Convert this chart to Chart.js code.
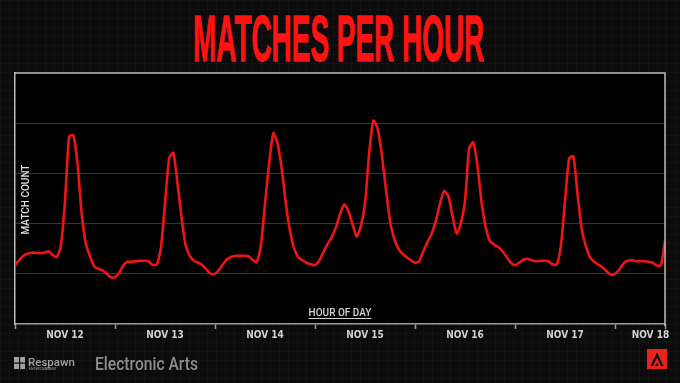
<!DOCTYPE html>
<html>
<head>
<meta charset="utf-8">
<script src="https://cdn.jsdelivr.net/npm/chart.js@4.4.1/dist/chart.umd.min.js"></script>
<style>
  html, body { margin: 0; padding: 0; width: 680px; height: 383px; overflow: hidden; background: #0b0b0b; }
  body {
    background-image:
      linear-gradient(rgba(255,255,255,0.028) 1px, transparent 1px),
      linear-gradient(90deg, rgba(255,255,255,0.028) 1px, transparent 1px);
    background-size: 9px 9px;
  }
  canvas { display: block; }
</style>
</head>
<body>
<canvas id="chart" width="680" height="383"></canvas>
<script>
// Day labels along the bottom axis (one per 24 hourly samples)
const dayLabels = ['NOV 12', 'NOV 13', 'NOV 14', 'NOV 15', 'NOV 16', 'NOV 17', 'NOV 18'];

// Matches per hour, hourly samples for each day (relative units, grid step = 1)
const nov12 = [1.17, 1.27, 1.36, 1.40, 1.42, 1.42, 1.41, 1.42, 1.45, 1.38, 1.33, 1.55,
               2.45, 3.74, 3.76, 3.20, 2.20, 1.60, 1.35, 1.15, 1.10, 1.07, 1.00, 0.93];
const nov13 = [0.93, 1.02, 1.17, 1.24, 1.24, 1.25, 1.26, 1.26, 1.25, 1.18, 1.18, 1.50,
               2.40, 3.30, 3.41, 2.80, 2.10, 1.55, 1.35, 1.26, 1.22, 1.17, 1.08, 1.00];
const nov14 = [1.00, 1.08, 1.20, 1.30, 1.34, 1.36, 1.36, 1.36, 1.35, 1.28, 1.23, 1.55,
               2.40, 3.20, 3.80, 3.60, 3.10, 2.40, 1.85, 1.50, 1.33, 1.27, 1.22, 1.19];
const nov15 = [1.17, 1.26, 1.43, 1.59, 1.73, 1.92, 2.19, 2.38, 2.25, 1.99, 1.74, 1.95,
               2.40, 3.40, 4.05, 3.90, 3.40, 2.70, 2.05, 1.70, 1.50, 1.40, 1.33, 1.27];
const nov16 = [1.22, 1.25, 1.45, 1.63, 1.80, 2.05, 2.40, 2.65, 2.55, 2.15, 1.80, 2.00,
               2.45, 3.50, 3.62, 3.15, 2.40, 1.92, 1.65, 1.58, 1.53, 1.45, 1.33, 1.22];
const nov17 = [1.17, 1.22, 1.28, 1.30, 1.27, 1.25, 1.26, 1.26, 1.25, 1.19, 1.18, 1.55,
               2.45, 3.30, 3.34, 2.60, 1.90, 1.55, 1.33, 1.24, 1.18, 1.13, 1.05, 0.98];
const nov18 = [1.00, 1.08, 1.20, 1.26, 1.27, 1.25, 1.25, 1.25, 1.24, 1.22, 1.16, 1.17, 1.64];

const matchCount = [...nov12, ...nov13, ...nov14, ...nov15, ...nov16, ...nov17, ...nov18];
const hours = matchCount.map((_, i) => i);

const HOURS_PER_DAY = 24;
const labelAt = new Map();

const FONT_COND = "'Liberation Sans Narrow','DejaVu Sans Condensed',Roboto,'Liberation Sans',sans-serif";

// Black plot panel, frame, in-plot axis captions, heading and footer marks
const decorations = {
  id: 'decorations',
  beforeDraw(chart) {
    const { ctx, chartArea: a } = chart;
    ctx.save();
    ctx.fillStyle = '#000';
    ctx.fillRect(a.left, a.top, a.right - a.left, a.bottom - a.top);
    ctx.restore();
  },
  afterDraw(chart) {
    const { ctx, chartArea: a } = chart;
    ctx.save();

    // frame (top + right edges)
    ctx.strokeStyle = '#bdbdbd';
    ctx.lineWidth = 1.5;
    ctx.beginPath();
    ctx.moveTo(a.left, a.top);
    ctx.lineTo(a.right, a.top);
    ctx.lineTo(a.right, a.bottom + 2);
    ctx.stroke();

    // heading
    const title = 'MATCHES PER HOUR';
    ctx.font = "bold 64px 'Liberation Sans', Arial, sans-serif";
    const m = ctx.measureText(title);
    const w = m.actualBoundingBoxLeft + m.actualBoundingBoxRight;
    const targetW = 289;
    const sx = targetW / w;
    ctx.save();
    ctx.translate(195, 61);
    ctx.scale(sx, 1);
    ctx.fillStyle = '#ff1212';
    ctx.strokeStyle = '#ff1212';
    ctx.lineWidth = 1.4;
    ctx.lineJoin = 'miter';
    ctx.textBaseline = 'alphabetic';
    ctx.fillText(title, m.actualBoundingBoxLeft, 0);
    ctx.strokeText(title, m.actualBoundingBoxLeft, 0);
    ctx.restore();

    // vertical caption inside the plot
    ctx.save();
    ctx.translate(a.left + 11.5, (a.top + a.bottom) / 2 + 1);
    ctx.rotate(-Math.PI / 2);
    ctx.font = "500 10px Roboto, sans-serif";
    ctx.fillStyle = '#e2e2e2';
    ctx.textAlign = 'center';
    ctx.textBaseline = 'middle';
    ctx.fillText('MATCH COUNT', 0, 0);
    ctx.restore();

    // horizontal caption inside the plot, underlined
    ctx.save();
    const cx = (a.left + a.right) / 2;
    const cy = a.bottom - 11;
    ctx.font = "500 10px Roboto, sans-serif";
    ctx.fillStyle = '#d4d4d4';
    ctx.textAlign = 'center';
    ctx.textBaseline = 'middle';
    ctx.fillText('HOUR OF DAY', cx, cy);
    const hw = ctx.measureText('HOUR OF DAY').width / 2;
    ctx.fillRect(cx - hw, cy + 5, hw * 2, 1);
    ctx.restore();

    // footer: Respawn mark
    ctx.save();
    ctx.fillStyle = '#a3a3a3';
    ctx.fillRect(14, 357, 11, 12);
    ctx.fillStyle = '#0b0b0b';
    ctx.fillRect(19, 357, 1.2, 12);
    ctx.fillRect(14, 362.5, 11, 1.2);
    ctx.fillStyle = '#a3a3a3';
    ctx.font = "500 11.5px Roboto, sans-serif";
    ctx.textBaseline = 'alphabetic';
    ctx.fillText('Respawn', 28, 365.5);
    ctx.font = "3.5px Roboto, sans-serif";
    ctx.fillText('ENTERTAINMENT', 29, 369.5);
    ctx.restore();

    // footer: Electronic Arts
    ctx.save();
    ctx.font = "500 18px Roboto, sans-serif";
    const ea = 'Electronic Arts';
    const eaW = ctx.measureText(ea).width;
    ctx.translate(95, 370);
    ctx.scale(103 / eaW, 1);
    ctx.fillStyle = '#8e8e8e';
    ctx.textBaseline = 'alphabetic';
    ctx.fillText(ea, 0, 0);
    ctx.restore();

    // footer: Apex badge
    ctx.save();
    ctx.fillStyle = '#e8231c';
    ctx.fillRect(647, 349, 20, 20);
    ctx.fillStyle = '#0b0b0b';
    ctx.beginPath();
    ctx.moveTo(657, 352.5);
    ctx.lineTo(663.5, 366);
    ctx.lineTo(661, 366);
    ctx.lineTo(657, 357.5);
    ctx.lineTo(653, 366);
    ctx.lineTo(650.5, 366);
    ctx.closePath();
    ctx.fill();
    ctx.beginPath();
    ctx.moveTo(657, 362.5);
    ctx.lineTo(658.8, 366);
    ctx.lineTo(655.2, 366);
    ctx.closePath();
    ctx.fill();
    ctx.restore();

    ctx.restore();
  }
};

new Chart(document.getElementById('chart'), {
  type: 'line',
  data: {
    labels: hours,
    datasets: [{
      data: matchCount,
      borderColor: '#f01414',
      borderWidth: 2.6,
      pointRadius: 0,
      tension: 0.2,
      fill: false
    }]
  },
  options: {
    responsive: false,
    animation: false,
    layout: { padding: { left: 15, right: 15, top: 73, bottom: 42 } },
    plugins: { legend: { display: false }, tooltip: { enabled: false } },
    scales: {
      x: {
        type: 'linear',
        min: 0,
        max: hours[hours.length - 1],
        afterBuildTicks(scale) {
          const ticks = [];
          labelAt.clear();
          const days = Math.ceil(scale.max / HOURS_PER_DAY);
          for (let d = 0; d <= days; d++) {
            const b = Math.min(d * HOURS_PER_DAY, scale.max);
            ticks.push({ value: b });
          }
          dayLabels.forEach((lab, d) => {
            const c = Math.min(d * HOURS_PER_DAY + HOURS_PER_DAY / 2, scale.max - 3.5);
            labelAt.set(c, lab);
            ticks.push({ value: c });
          });
          const seen = new Set();
          scale.ticks = ticks
            .filter(t => (seen.has(t.value) ? false : seen.add(t.value)))
            .sort((p, q) => p.value - q.value);
        },
        ticks: {
          autoSkip: false,
          maxRotation: 0,
          padding: 0,
          color: '#d2d2d2',
          font: { family: FONT_COND, size: 10, weight: 'bold' },
          callback: (v) => labelAt.get(v) || ''
        },
        grid: {
          drawOnChartArea: false,
          tickLength: 5,
          tickWidth: 1.5,
          tickColor: (c) => (c.tick && labelAt.has(c.tick.value) ? 'rgba(0,0,0,0)' : '#9c9c9c')
        },
        border: { display: true, color: '#9c9c9c', width: 1.5 }
      },
      y: {
        min: 0,
        max: 5,
        ticks: { display: false, stepSize: 1 },
        grid: {
          drawTicks: false,
          lineWidth: 1,
          color: (c) => (c.tick && c.tick.value > 0 && c.tick.value < 5 ? '#363636' : 'rgba(0,0,0,0)')
        },
        border: { display: true, color: '#bdbdbd', width: 1.5 }
      }
    }
  },
  plugins: [decorations]
});
</script>
</body>
</html>
